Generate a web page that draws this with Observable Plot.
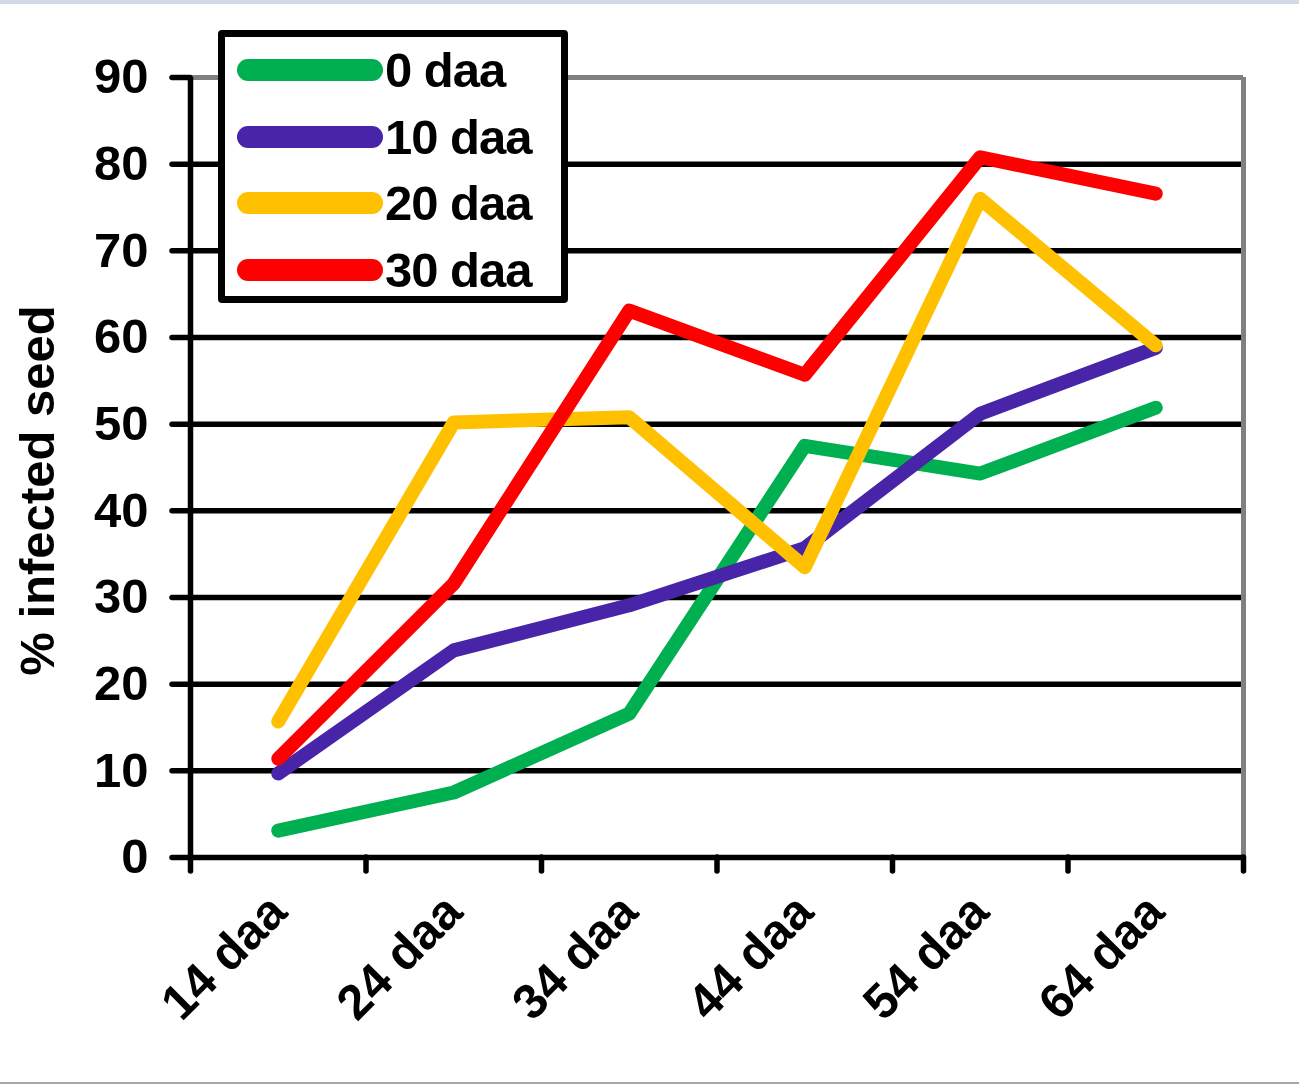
<!DOCTYPE html>
<html>
<head>
<meta charset="utf-8">
<script src="https://cdn.jsdelivr.net/npm/d3@7"></script>
<script src="https://cdn.jsdelivr.net/npm/@observablehq/plot@0.6"></script>
<style>
  body { margin: 0; background: #fff; font-family: "Liberation Sans", Arial, sans-serif; }
  #wrap { position: relative; width: 1299px; height: 1087px; overflow: hidden; background: #fff; }
  #topline { position: absolute; left: 0; top: 0; width: 1299px; height: 4px; background: #d3dae6; }
  #bottomline { position: absolute; left: 0; top: 1082px; width: 1299px; height: 2px; background: #a6a6a6; }
  #legend { position: absolute; left: 218px; top: 30px; width: 350px; height: 273px; box-sizing: border-box;
            border: 7px solid #000; border-radius: 4px; background: #fff; }
  .lrow { position: absolute; left: 10px; height: 40px; display: flex; align-items: center; }
  .lrow span { font-weight: bold; font-size: 49px; color: #000; margin-left: 0px; letter-spacing: -1px; }
</style>
</head>
<body>
<div id="wrap">
  <div id="topline"></div>
  <div id="chart"></div>
  <div id="legend"></div>
  <div id="bottomline"></div>
</div>
<script>
// ---- data ----
const categories = ["14 daa", "24 daa", "34 daa", "44 daa", "54 daa", "64 daa"];
const seriesNames = ["0 daa", "10 daa", "20 daa", "30 daa"];
const seriesColors = ["#00B050", "#4824A8", "#FFC000", "#FF0000"];
const values0daa  = [3.1, 7.5, 16.6, 47.5, 44.3, 51.9];
const values10daa = [9.7, 23.9, 29.1, 35.7, 51.2, 58.8];
const values20daa = [15.7, 50.2, 50.8, 33.5, 76.0, 59.1];
const values30daa = [11.4, 31.6, 63.1, 55.7, 80.8, 76.6];
const yTicks = [0, 10, 20, 30, 40, 50, 60, 70, 80, 90];
const yLabel = "% infected seed";

const seriesValues = [values0daa, values10daa, values20daa, values30daa];
const rows = [];
seriesNames.forEach((s, k) => seriesValues[k].forEach((v, i) => rows.push({series: s, i, value: v})));

const idx = categories.map((_, i) => i);
const bounds = d3.range(categories.length + 1).map(i => i - 0.5);
const gridVals = yTicks.filter(t => t > 0 && t < 90);

const chart = Plot.plot({
  width: 1299,
  height: 1087,
  marginLeft: 190,
  marginRight: 56,
  marginTop: 77,
  marginBottom: 230,
  style: { fontFamily: "'Liberation Sans', Arial, sans-serif", fontSize: "49px", fontWeight: "bold", color: "#000", background: "transparent" },
  x: { type: "linear", domain: [-0.5, categories.length - 0.5], axis: null },
  y: { domain: [0, 90], axis: null },
  color: { domain: seriesNames, range: seriesColors },
  marks: [
    Plot.ruleY(gridVals, { stroke: "#000", strokeWidth: 5.5 }),
    Plot.ruleY([90], { stroke: "#808080", strokeWidth: 5 }),
    Plot.ruleX([bounds[bounds.length - 1]], { stroke: "#808080", strokeWidth: 5, y1: 0, y2: 90 }),
    Plot.axisY({ ticks: yTicks, tickSize: 18, tickPadding: 24, strokeWidth: 5.5, strokeLinecap: "round", tickFormat: d => d, fill: "#000", label: null }),
    Plot.axisX({ ticks: bounds, tickSize: 14, strokeWidth: 5.5, strokeLinecap: "round", tickFormat: () => "", label: null }),
    Plot.axisX({ ticks: idx, tickSize: 0, tickPadding: 46, tickRotate: -45, tickFormat: i => categories[i], fill: "#000", label: null }),
    Plot.ruleY([0], { stroke: "#000", strokeWidth: 5.5 }),
    Plot.ruleX([bounds[0]], { stroke: "#000", strokeWidth: 5.5, y1: 0, y2: 90 }),
    Plot.line(rows, { x: "i", y: "value", z: "series", stroke: "series", strokeWidth: 14,
                      strokeLinecap: "round", strokeLinejoin: "round" }),
    Plot.text([yLabel], { text: d => d, frameAnchor: "left", textAnchor: "middle", rotate: -90, dx: -152, dy: 23, fill: "#000",
                          fontSize: 49, fontWeight: "bold" })
  ]
});
document.getElementById("chart").appendChild(chart);

// ---- legend ----
const legend = d3.select("#legend");
seriesNames.forEach((s, k) => {
  const row = legend.append("div").attr("class", "lrow").style("top", (13 + k * 66.5) + "px");
  const sw = row.append("svg").attr("width", 150).attr("height", 40);
  sw.append("line").attr("x1", 13).attr("x2", 137).attr("y1", 20).attr("y2", 20)
    .attr("stroke", seriesColors[k]).attr("stroke-width", 22).attr("stroke-linecap", "round");
  row.append("span").text(s);
});
</script>
</body>
</html>
